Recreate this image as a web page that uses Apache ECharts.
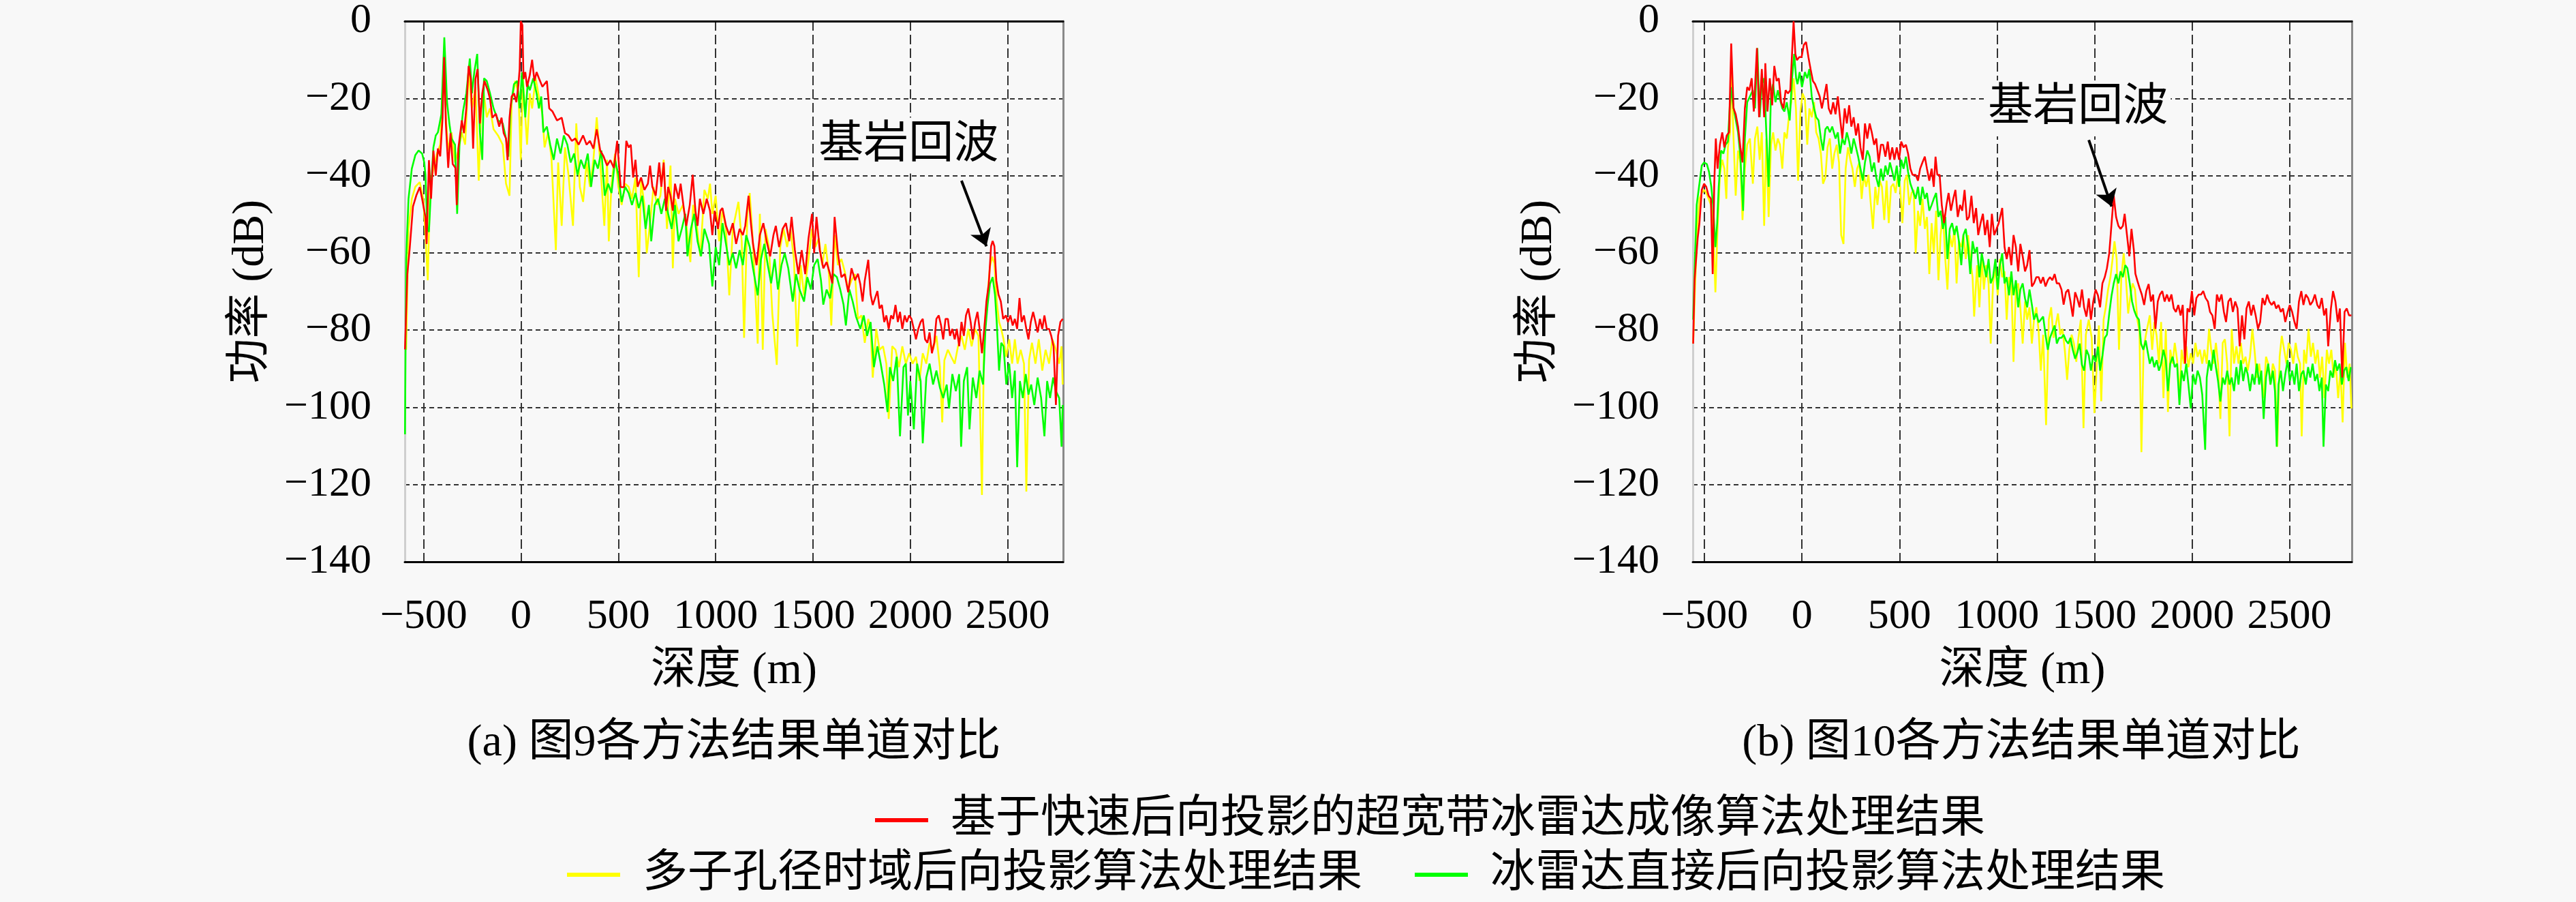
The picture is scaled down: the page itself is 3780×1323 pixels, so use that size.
<!DOCTYPE html>
<html>
<head>
<meta charset="utf-8">
<script src="https://cdn.jsdelivr.net/npm/echarts@6/dist/echarts.min.js"></script>
<style>html,body{margin:0;padding:0;background:#f8f8f8}#c{width:3780px;height:1323px}</style>
</head>
<body>
<div id="c"></div>
<script>
// ---------- names / captions ----------
const seriesNames = ['基于快速后向投影的超宽带冰雷达成像算法处理结果', '多子孔径时域后向投影算法处理结果', '冰雷达直接后向投影算法处理结果'];
const captions = ['(a) 图9各方法结果单道对比', '(b) 图10各方法结果单道对比'];
const xName = '深度 (m)';
const yName = '功率 (dB)';
const noteText = '基岩回波';
const rangeA = [-597, 2785];
const rangeB = [-560, 2820];
const yRange = [-140, 0];
// annotation in data units: [text centre], [arrow tail], [arrow head]
const noteA = [[1991, -32.2], [2263, -41.3], [2391, -58.3]];
const noteB = [[1416, -22.6], [1471, -30.8], [1588, -48]];

// ---------- chart (a) : depth (m), power (dB) ----------
const aRed = [[-596,-85],[-584,-65.5],[-572,-59],[-555,-48],[-537,-45],[-520,-43],[-508,-46],[-491,-50.7],[-485,-57.7],[-473,-36],[-462,-46],[-450,-33.5],[-438,-40],[-427,-33],[-415,-35],[-403,-25],[-395,-9.3],[-386,-26.5],[-374,-38],[-362,-29],[-351,-37],[-337,-38],[-330,-47.6],[-322,-33],[-304,-25.7],[-293,-29],[-281,-22.6],[-269,-11.6],[-258,-15],[-246,-33],[-234,-15],[-223,-12.4],[-211,-26.5],[-199,-18.7],[-188,-15.5],[-170,-18],[-159,-20.2],[-147,-25],[-129,-24],[-112,-27.3],[-100,-25],[-89,-29],[-77,-30.4],[-69,-36],[-59,-25],[-48,-19.5],[-36,-18.7],[-24,-21],[-13,-16.3],[-7,-12.4],[-1,0],[7,-1],[13,-15],[22,-13.2],[31,-17],[45,-14],[57,-10],[69,-15.5],[80,-13.2],[92,-14.8],[110,-17],[133,-15.5],[145,-22.6],[162,-23.4],[185,-25.7],[209,-25],[226,-29],[244,-29.6],[261,-31],[279,-30.4],[296,-32],[319,-29.6],[337,-32],[354,-31],[372,-33],[389,-28],[407,-33.5],[424,-35],[442,-37.4],[459,-36],[477,-38],[494,-31],[512,-43],[529,-43],[541,-31],
[553,-32.7],[564,-32],[576,-40.5],[588,-35.9],[599,-42.9],[617,-40.5],[634,-43.7],[652,-42.1],[663,-37.4],[675,-42.9],[692,-45.2],[710,-36.6],[721,-42.9],[733,-36.6],[745,-49.1],[756,-42.9],[768,-45.2],[780,-49.1],[791,-42.1],[809,-46],[820,-42.1],[838,-49.1],[849,-53],[867,-47.6],[882,-39.8],[896,-49.1],[907,-53],[919,-46],[937,-49.9],[954,-46],[971,-49.1],[983,-55.4],[995,-49.1],[1012,-53.8],[1024,-49.1],[1035,-48.4],[1053,-53],[1070,-55.4],[1088,-52.3],[1105,-57.7],[1123,-53.8],[1140,-55.4],[1152,-53],[1169,-45.2],[1181,-52.3],[1192,-57.7],[1210,-63.2],[1227,-55.4],[1245,-52.3],[1262,-57],[1280,-60.9],[1297,-55.4],[1309,-53],[1326,-58.5],[1344,-53.8],[1361,-52.3],[1378,-57],[1390,-50.7],[1407,-59.3],[1425,-65.5],[1442,-59.3],[1460,-65.5],[1477,-56.2],[1495,-49.9],[1506,-60.1],[1518,-50.7],[1535,-59.3],[1553,-64],[1570,-62.4],[1588,-65.5],[1599,-67.9],[1611,-50.7],[1628,-60.1],[1646,-66.3],[1663,-65.5],[1681,-70.2],[1698,-64],[1716,-67.1],
[1731,-65.4],[1743,-68.1],[1755,-72.6],[1766,-67.2],[1784,-61.8],[1796,-70.8],[1807,-73.5],[1819,-71.7],[1831,-69.9],[1842,-74.4],[1854,-73.5],[1866,-77.9],[1877,-76.2],[1889,-79.7],[1901,-76.2],[1912,-77.1],[1924,-73.5],[1936,-77.9],[1947,-75.3],[1959,-79.7],[1971,-76.2],[1982,-77.9],[1994,-76.2],[2006,-77.1],[2018,-79.7],[2029,-82.4],[2041,-79.7],[2053,-77.9],[2064,-77.1],[2076,-82.4],[2088,-83.3],[2099,-80.6],[2111,-86],[2123,-83.3],[2134,-77.1],[2146,-76.2],[2158,-78.8],[2169,-82.4],[2181,-77.1],[2193,-77.1],[2204,-81.5],[2216,-79.7],[2228,-82.4],[2239,-79.7],[2251,-84.2],[2263,-77.9],[2275,-81.5],[2286,-76.2],[2298,-74.4],[2310,-77.9],[2321,-82.4],[2333,-77.9],[2345,-75.3],[2356,-79.7],[2368,-86],[2380,-79.7],[2391,-72.6],[2403,-68.1],[2415,-58.3],[2423,-56.9],[2432,-58.3],[2442,-67.2],[2453,-70.8],[2465,-72.6],[2477,-77.1],[2491,-76.2],[2502,-77.9],[2514,-76.2],[2526,-78.8],[2537,-77.1],[2549,-79.7],[2561,-71.7],[2572,-77.9],[2584,-76.2],[2596,-79.7],[2607,-82.4],[2619,-77.9],[2631,-75.3],[2643,-77.9],[2654,-80.6],[2666,-77.1],[2678,-79.7],[2689,-76.2],[2701,-79.7],[2713,-79.7],[2724,-81.5],[2736,-84.2],[2748,-99.4],[2759,-81.5],[2771,-77.9],[2783,-77.1]];

const aYellow = [[-590,-85.1],[-578,-53.8],[-561,-46],[-543,-42.9],[-520,-41.7],[-502,-46],[-491,-55.4],[-479,-67.1],[-467,-42.9],[-450,-38.2],[-432,-34.3],[-415,-32],[-397,-10.9],[-386,-24.9],[-374,-33.5],[-357,-28.8],[-339,-36.6],[-322,-33.5],[-304,-28.8],[-287,-32],[-269,-13.2],[-252,-22.6],[-234,-17.1],[-217,-41.3],[-205,-22.6],[-193,-17.9],[-176,-24.9],[-159,-22.6],[-141,-28],[-118,-29.6],[-94,-32],[-77,-42.1],[-59,-45.2],[-48,-21],[-30,-15.5],[-13,-18.7],[-1,-35.9],[10,-14.8],[31,-32],[45,-18.7],[57,-22.6],[75,-14.8],[92,-19.5],[110,-24.1],[121,-32.7],[139,-28.8],[156,-35.1],[179,-59.3],[191,-36.6],[209,-53],[226,-32.7],[244,-39.8],[267,-53],[284,-26.5],[302,-42.9],[319,-46.8],[337,-36.6],[354,-42.9],[372,-35.9],[389,-24.9],[407,-36.6],[428,-53],[442,-35.9],[451,-57],[465,-42.1],[483,-34.3],[500,-42.9],[517,-47.6],[535,-42.1],
[553,-42.9],[570,-46],[588,-40.5],[605,-66.3],[617,-41.3],[634,-47.6],[646,-60.1],[663,-52.3],[681,-42.9],[698,-47.6],[716,-45.2],[733,-35.9],[750,-53.8],[768,-37.4],[780,-64],[791,-46],[809,-49.9],[832,-47.6],[849,-52.3],[870,-62.4],[884,-47.6],[902,-52.3],[921,-60.9],[942,-43.7],[960,-46],[971,-42.1],[983,-49.9],[1000,-45.2],[1018,-57],[1035,-49.1],[1053,-53.8],[1070,-71],[1088,-53.8],[1117,-46.8],[1134,-57],[1146,-82],[1163,-49.9],[1175,-44.5],[1192,-57.7],[1216,-83.5],[1227,-49.9],[1242,-85.1],[1256,-53.8],[1274,-58.5],[1291,-75.7],[1314,-89],[1332,-58.5],[1349,-53.8],[1367,-58.5],[1384,-53.8],[1402,-61.6],[1419,-84.3],[1437,-63.2],[1454,-71],[1477,-61.6],[1495,-53.8],[1512,-58.5],[1530,-56.2],[1547,-63.2],[1564,-57.7],[1582,-65.5],[1594,-78.8],[1611,-55.4],[1628,-63.2],[1646,-61.6],[1663,-64.8],[1681,-69.5],[1698,-67.1],[1716,-65.5],
[1731,-77.1],[1749,-76.2],[1766,-83.3],[1784,-77.1],[1796,-79.7],[1807,-92.3],[1825,-79.7],[1842,-85.1],[1860,-84.2],[1877,-88.7],[1889,-103],[1907,-84.2],[1924,-85.1],[1942,-89.6],[1959,-84.2],[1977,-88.7],[1994,-86],[2012,-88.7],[2029,-86.9],[2047,-93.2],[2064,-86],[2082,-88.7],[2099,-83.3],[2117,-85.1],[2134,-81.5],[2152,-89.6],[2164,-103.9],[2175,-87.8],[2193,-85.1],[2210,-86.9],[2228,-88.7],[2245,-84.2],[2263,-81.5],[2280,-85.1],[2298,-79.7],[2315,-84.2],[2333,-79.7],[2350,-81.5],[2368,-122.7],[2380,-79.7],[2397,-70.8],[2409,-63.6],[2421,-61],[2432,-62.7],[2444,-72.6],[2456,-77.9],[2467,-79.7],[2479,-82.4],[2493,-86.9],[2508,-82.4],[2523,-88.7],[2537,-82.4],[2551,-88.7],[2567,-85.1],[2584,-88.7],[2596,-121.8],[2610,-87.8],[2625,-83.3],[2643,-88.7],[2660,-82.4],[2678,-90.5],[2695,-85.1],[2713,-88.7],[2730,-82.4],[2748,-85.1],[2765,-88.7],[2777,-84.2],[2783,-94.1]];

const aGreen = [[-596,-107],[-590,-61.6],[-578,-46],[-561,-38.2],[-543,-34.7],[-526,-33.5],[-508,-34.3],[-497,-36.6],[-491,-39.8],[-481,-53.8],[-473,-54.6],[-462,-42.9],[-450,-32.7],[-438,-29.6],[-427,-28.8],[-409,-24.1],[-394,-4.2],[-380,-21],[-368,-26.5],[-357,-30.4],[-339,-32],[-328,-49.9],[-316,-32],[-298,-23.4],[-281,-18.7],[-263,-9.7],[-252,-18.7],[-240,-13.2],[-225,-8.5],[-211,-28.8],[-199,-35.9],[-190,-14.8],[-176,-15.5],[-159,-18.7],[-141,-22.6],[-118,-25.7],[-94,-26.5],[-77,-30.4],[-65,-35.1],[-54,-22.6],[-36,-16.3],[-19,-15.5],[-7,-22.6],[5,-13.2],[22,-24.9],[34,-16.3],[45,-17.9],[63,-14.8],[80,-18.7],[92,-22.6],[104,-19.5],[115,-28.8],[133,-27.3],[150,-32],[168,-35.9],[185,-30.4],[203,-34.3],[220,-29.6],[238,-32],[255,-36.6],[273,-34.3],[290,-39.8],[308,-35.9],[325,-38.2],[343,-34.3],[360,-42.9],[378,-35.9],[395,-38.2],[413,-33.5],[430,-45.2],[448,-42.1],[465,-44.5],[483,-35.9],[500,-39.8],[517,-46.8],[535,-42.9],
[553,-44.5],[570,-47.6],[588,-44.5],[605,-48.4],[623,-45.2],[640,-53.8],[657,-47.6],[669,-57],[687,-47.6],[704,-46],[721,-49.9],[739,-46],[756,-49.9],[774,-53.8],[791,-47.6],[809,-57],[826,-53.8],[844,-49.9],[855,-60.9],[873,-53.8],[890,-49.9],[907,-57],[925,-60.9],[942,-53.8],[966,-57.7],[983,-68.7],[1000,-58.5],[1018,-63.2],[1035,-52.3],[1053,-57.7],[1070,-63.2],[1088,-60.1],[1105,-64],[1123,-59.3],[1140,-63.2],[1157,-55.4],[1175,-58.5],[1192,-64],[1216,-71],[1233,-61.6],[1250,-57.7],[1268,-63.2],[1285,-67.9],[1303,-61.6],[1320,-69.5],[1338,-63.2],[1355,-60.1],[1373,-64],[1396,-72.6],[1413,-65.5],[1431,-69.5],[1454,-72.6],[1471,-66.3],[1489,-69.5],[1506,-63.2],[1524,-61.6],[1541,-67.1],[1553,-73.4],[1570,-69.5],[1588,-71.8],[1605,-65.5],[1623,-66.3],[1640,-69.5],[1657,-73.4],[1669,-78.8],[1687,-69.5],[1704,-72.6],[1721,-76.5],
[1743,-79.7],[1761,-76.2],[1778,-81.5],[1796,-77.9],[1813,-89.6],[1831,-84.2],[1848,-88.7],[1866,-94.1],[1883,-101.2],[1895,-89.6],[1912,-93.2],[1930,-86.9],[1947,-107.5],[1965,-89.6],[1977,-88.7],[1988,-102.1],[2000,-93.2],[2018,-105.7],[2035,-88.7],[2053,-93.2],[2064,-109.3],[2082,-92.3],[2099,-88.7],[2117,-94.1],[2134,-90.5],[2152,-94.9],[2169,-97.6],[2187,-94.1],[2199,-100.3],[2216,-91.4],[2234,-95.8],[2251,-91.4],[2261,-110.2],[2275,-93.2],[2292,-89.6],[2304,-105.7],[2321,-92.3],[2339,-97.6],[2356,-90.5],[2374,-94.1],[2386,-79.7],[2397,-73.5],[2409,-68.1],[2423,-66.3],[2435,-70.8],[2444,-77.9],[2456,-90.5],[2467,-83.3],[2479,-84.2],[2493,-94.1],[2508,-88.7],[2523,-97.6],[2537,-90.5],[2549,-115.5],[2563,-93.2],[2578,-97.6],[2593,-91.4],[2607,-96.7],[2621,-94.1],[2637,-99.4],[2654,-92.3],[2672,-97.6],[2689,-107.5],[2703,-93.2],[2718,-97.6],[2734,-92.3],[2748,-95.8],[2765,-97.6],[2777,-110.2],[2783,-99.4]];

// ---------- chart (b) ----------
const bRed = [[-558,-83.5],[-551,-67.1],[-543,-61.6],[-535,-56.2],[-526,-52.3],[-514,-43.7],[-502,-42.1],[-491,-42.9],[-479,-45.2],[-467,-46],[-458,-65.5],[-450,-42.1],[-442,-30.4],[-433,-38.2],[-421,-32],[-409,-28.8],[-398,-32.7],[-386,-29.6],[-374,-28.8],[-363,-5.8],[-351,-22.6],[-340,-24.1],[-328,-27.3],[-316,-32.7],[-305,-36.6],[-293,-22.6],[-281,-17.1],[-270,-17.9],[-258,-14.8],[-247,-23.4],[-231,-7],[-220,-24.9],[-206,-12.4],[-194,-24.9],[-188,-10.9],[-177,-23.4],[-165,-14.8],[-153,-21.8],[-142,-11.6],[-130,-15.5],[-119,-14.8],[-107,-21],[-95,-22.6],[-84,-17.9],[-72,-18.7],[-60,-17.9],[-51,-8.5],[-43,0],[-34,-8.5],[-26,-10.1],[-14,-9.3],[-2,-9.3],[9,-6.2],[21,-5.4],[33,-9.3],[44,-12.4],[56,-15.5],[67,-16.3],[79,-17.9],[91,-19.5],[102,-22.6],[114,-19.5],[126,-16.3],[137,-22.6],[149,-24.1],[160,-21],[172,-24.1],[184,-19.5],[195,-24.9],[207,-30.4],[219,-22.6],[230,-26.5],[242,-21.8],[253,-27.3],[265,-24.9],[277,-29.6],[288,-26.5],[300,-32.7],[312,-35.9],[323,-26.5],[335,-30.4],[347,-26.5],[358,-28.8],[370,-32],[381,-30.4],[393,-36.6],[405,-32],[416,-32],[428,-35.1],[440,-31.2],[451,-35.9],[463,-32.7],[474,-35.9],[486,-32.7],[498,-35.9],[509,-31.2],[521,-32.7],[533,-32],[544,-34.3],[556,-38.2],[567,-39.8],
[583,-39.8],[595,-41.3],[606,-38.2],[618,-36.6],[630,-35.1],[641,-38.2],[653,-41.3],[665,-38.2],[676,-42.9],[685,-35.1],[694,-39.8],[706,-39.8],[717,-47.6],[729,-52.3],[741,-47.6],[752,-44.5],[764,-49.1],[776,-46],[787,-43.7],[799,-50.7],[811,-47.6],[822,-49.1],[834,-43.7],[846,-51.5],[857,-50.7],[869,-45.2],[881,-52.3],[893,-48.4],[904,-55.4],[916,-52.3],[928,-49.9],[939,-55.4],[951,-51.5],[963,-58.5],[974,-49.9],[986,-55.4],[998,-53.8],[1009,-52.3],[1027,-48.4],[1039,-58.5],[1050,-61.6],[1062,-58.5],[1074,-63.2],[1085,-55.4],[1097,-58.5],[1109,-64.8],[1120,-57.7],[1132,-60.9],[1144,-64.8],[1155,-63.2],[1167,-59.3],[1179,-68.7],[1190,-67.9],[1202,-66.3],[1214,-66.3],[1225,-67.9],[1237,-66.3],[1249,-68.7],[1261,-67.1],[1272,-66.3],[1284,-67.1],[1296,-65.5],[1307,-67.9],[1319,-67.9],[1331,-69.5],[1342,-73.4],[1354,-70.2],[1366,-69.5],[1377,-72.6],[1389,-76.5],[1401,-70.2],[1412,-71.8],[1424,-74.1],[1436,-69.5],[1447,-74.1],[1459,-76.5],[1471,-71.8],[1482,-77.3],[1494,-72.6],[1506,-69.5],[1518,-71],[1529,-74.1],[1541,-67.9],[1553,-66.3],[1564,-64],[1576,-60.1],[1588,-52.3],[1599,-45.2],[1611,-50.7],[1623,-53],[1634,-53.8],[1646,-53],[1655,-49.9],[1667,-55.4],[1679,-60.9],[1690,-53.8],
[1702,-59.2],[1710,-65.4],[1720,-67.2],[1731,-69],[1743,-70.8],[1755,-73.5],[1766,-69.9],[1778,-68.1],[1790,-72.6],[1801,-70.8],[1813,-79.7],[1825,-72.6],[1836,-70.8],[1848,-69.9],[1860,-72.6],[1872,-70.8],[1883,-72.6],[1895,-70.8],[1907,-74.4],[1918,-75.3],[1930,-73.5],[1942,-76.2],[1953,-73.5],[1965,-88.7],[1977,-74.4],[1988,-75.3],[2000,-69.9],[2012,-76.2],[2023,-71.7],[2035,-70.8],[2047,-70.8],[2058,-69.9],[2070,-71.7],[2082,-72.6],[2093,-75.3],[2105,-76.2],[2117,-79.7],[2128,-70.8],[2140,-72.6],[2152,-70.8],[2164,-75.3],[2175,-77.9],[2187,-72.6],[2199,-71.7],[2210,-75.3],[2222,-72.6],[2234,-74.4],[2245,-84.2],[2257,-76.2],[2269,-82.4],[2280,-74.4],[2292,-72.6],[2304,-76.2],[2315,-73.5],[2327,-76.2],[2339,-79.7],[2350,-77.9],[2362,-71.7],[2374,-73.5],[2386,-70.8],[2397,-72.6],[2409,-73.5],[2421,-72.6],[2432,-74.4],[2444,-73.5],[2456,-75.3],[2467,-74.4],[2479,-77.9],[2491,-75.3],[2502,-73.5],[2514,-75.3],[2526,-77.9],[2537,-79.7],[2549,-72.6],[2561,-69.9],[2572,-73.5],[2584,-70.8],[2596,-71.7],[2607,-73.5],[2619,-72.6],[2631,-70.8],[2643,-73.5],[2654,-74.4],[2666,-71.7],[2678,-76.2],[2689,-74.4],[2699,-84.2],[2713,-74.4],[2724,-69.9],[2736,-72.6],[2748,-77.9],[2759,-74.4],[2771,-92.3],[2783,-75.3],[2794,-74.4],[2806,-76.2],[2818,-76.2]];

const bYellow = [[-558,-83.5],[-549,-69.5],[-537,-53.8],[-526,-46],[-514,-44.5],[-502,-43.7],[-491,-44.5],[-479,-46],[-467,-47.6],[-456,-52.3],[-444,-70.2],[-433,-53.8],[-421,-39.8],[-409,-35.9],[-398,-38.2],[-388,-46],[-380,-32.7],[-369,-28.8],[-363,-11.6],[-351,-30.4],[-340,-45.2],[-328,-33.5],[-316,-36.6],[-305,-51.5],[-293,-38.2],[-281,-32],[-267,-30.4],[-252,-42.1],[-241,-30.4],[-229,-27.3],[-217,-35.9],[-206,-28.8],[-194,-53],[-183,-30.4],[-171,-50.7],[-159,-32],[-148,-28.8],[-136,-33.5],[-124,-30.4],[-113,-32],[-101,-38.2],[-90,-28.8],[-78,-30.4],[-66,-24.1],[-55,-21],[-43,-14.8],[-31,-22.6],[-20,-41.3],[-8,-23.4],[3,-18.7],[15,-20.2],[27,-32],[38,-22.6],[50,-24.9],[62,-21],[73,-28.8],[85,-30.4],[97,-34.3],[108,-42.1],[120,-40.5],[131,-32.7],[143,-30.4],[155,-38.2],[166,-34.3],[178,-32],[190,-36.6],[201,-55.4],[213,-57.7],[224,-38.2],[236,-32.7],[248,-35.9],[259,-38.2],[271,-42.9],[283,-38.2],[294,-36.6],[306,-46],[317,-39.8],[329,-42.9],[341,-39.8],[352,-46.8],[364,-53.8],[376,-42.9],[387,-47.6],[399,-41.3],[410,-42.9],[422,-51.5],[434,-41.3],[445,-52.3],[457,-42.9],[469,-42.1],[480,-44.5],[492,-39.8],[503,-42.9],[515,-52.3],[527,-41.3],[538,-39.8],[550,-47.6],[562,-44.5],[573,-43.7],
[583,-60.1],[595,-49.1],[606,-53],[618,-46],[630,-53.8],[641,-50.7],[653,-65.5],[665,-52.3],[676,-60.1],[688,-49.1],[700,-67.1],[711,-55.4],[723,-49.9],[735,-61.6],[746,-69.5],[758,-55.4],[770,-58.5],[782,-53.8],[793,-67.9],[805,-57],[817,-58.5],[828,-55.4],[840,-61.6],[852,-55.4],[863,-61.6],[875,-66.3],[883,-76.5],[898,-63.2],[910,-74.1],[922,-61.6],[933,-69.5],[945,-63.2],[957,-67.9],[968,-83.5],[980,-67.9],[992,-64],[1004,-71],[1015,-61.6],[1027,-66.3],[1039,-64.8],[1050,-77.3],[1062,-66.3],[1074,-67.9],[1085,-88.2],[1097,-69.5],[1109,-67.9],[1120,-74.1],[1132,-83.5],[1144,-72.6],[1155,-77.3],[1167,-74.1],[1179,-83.5],[1190,-77.3],[1202,-74.1],[1214,-80.4],[1225,-90.5],[1237,-81.2],[1252,-104.6],[1266,-77.3],[1278,-74.1],[1290,-82],[1301,-78.8],[1313,-75.7],[1325,-81.2],[1336,-79.7],[1348,-85.1],[1360,-92.9],[1371,-85.1],[1383,-81.2],[1395,-83.5],[1407,-88.2],[1418,-82],[1430,-77.3],[1444,-105.4],[1456,-81.2],[1471,-77.3],[1486,-82],[1500,-101.5],[1512,-89],[1523,-78.8],[1535,-98.4],[1547,-77.3],[1558,-74.1],[1570,-69.5],[1582,-66.3],[1593,-61.6],[1603,-57],[1614,-61.6],[1626,-85.1],[1638,-66.3],[1650,-60.1],[1661,-66.3],[1673,-75.7],[1685,-71],[1696,-67.9],[1708,-69.5],[1720,-77.3],[1731,-80.4],[1741,-111.6],[1752,-85.1],[1764,-81.2],
[1784,-76.2],[1796,-85.1],[1807,-77.9],[1819,-81.5],[1831,-88.7],[1842,-77.9],[1854,-97.6],[1866,-79.7],[1877,-101.2],[1889,-85.1],[1901,-88.7],[1912,-83.3],[1924,-87.8],[1936,-97.6],[1947,-85.1],[1959,-88.7],[1971,-84.2],[1982,-89.6],[1994,-86],[2006,-88.7],[2018,-83.3],[2029,-86.9],[2041,-85.1],[2053,-88.7],[2064,-85.1],[2076,-88.7],[2088,-79.7],[2099,-85.1],[2111,-88.7],[2123,-83.3],[2134,-88.7],[2146,-103],[2158,-83.3],[2169,-82.4],[2181,-88.7],[2193,-107.5],[2204,-79.7],[2216,-88.7],[2228,-84.2],[2239,-88.7],[2251,-83.3],[2263,-88.7],[2275,-86.9],[2286,-90.5],[2298,-86.9],[2310,-79.7],[2321,-85.1],[2333,-92.3],[2345,-88.7],[2356,-93.2],[2368,-97.6],[2380,-86.9],[2391,-88.7],[2403,-94.1],[2415,-88.7],[2426,-90.5],[2438,-110.2],[2450,-86.9],[2461,-81.5],[2473,-85.1],[2485,-88.7],[2496,-83.3],[2508,-85.1],[2520,-88.7],[2532,-83.3],[2543,-86.9],[2555,-88.7],[2563,-107.5],[2575,-85.1],[2586,-88.7],[2598,-79.7],[2610,-86.9],[2621,-83.3],[2633,-88.7],[2645,-85.1],[2657,-92.3],[2668,-86.9],[2680,-97.6],[2692,-85.1],[2703,-88.7],[2715,-85.1],[2727,-92.3],[2738,-88.7],[2750,-97.6],[2762,-90.5],[2773,-103.9],[2785,-83.3],[2797,-92.3],[2809,-88.7],[2818,-100.3]];

const bGreen = [[-558,-77.3],[-549,-61.6],[-540,-47.6],[-528,-42.9],[-514,-37.4],[-502,-36.6],[-488,-37],[-477,-39],[-465,-42.9],[-456,-47.6],[-444,-58.5],[-435,-52.3],[-427,-42.9],[-415,-33.5],[-403,-34.3],[-392,-32],[-380,-31.2],[-365,-17.1],[-353,-21.8],[-342,-24.9],[-328,-28.8],[-316,-35.1],[-302,-49.1],[-293,-30.4],[-281,-21],[-267,-19.5],[-252,-17.9],[-241,-22.6],[-229,-7],[-217,-24.9],[-206,-16.3],[-194,-14.8],[-183,-28.8],[-171,-42.9],[-159,-18.7],[-148,-16.3],[-136,-21],[-124,-17.9],[-113,-20.2],[-101,-22.6],[-90,-23.4],[-78,-21],[-63,-25.7],[-51,-14.8],[-40,-8.5],[-30,-14.8],[-23,-16.3],[-12,-13.2],[0,-17.1],[15,-13.2],[27,-14.8],[38,-12.4],[50,-19.5],[62,-22.6],[73,-24.9],[85,-25.7],[97,-30.4],[108,-33.5],[120,-28],[131,-27.3],[143,-28.8],[155,-27.3],[172,-30.4],[184,-28.8],[195,-34.3],[207,-30.4],[219,-32],[230,-28.8],[242,-31.2],[253,-34.3],[265,-30.4],[277,-32.7],[288,-35.1],[300,-38.2],[312,-41.3],[323,-36.6],[335,-33.5],[347,-35.1],[358,-39],[370,-36.6],[381,-40.5],[393,-42.9],[405,-38.2],[416,-41.3],[428,-37.4],[440,-39.8],[451,-36.6],[463,-39],[474,-41.3],[486,-37.4],[498,-42.9],[509,-35.9],[521,-38.2],[533,-35.1],[544,-39],[556,-42.1],[567,-43.7],
[583,-46],[595,-42.9],[606,-47.6],[618,-42.9],[630,-46],[641,-44.5],[653,-49.1],[665,-47.6],[676,-46],[688,-44.5],[700,-50.7],[711,-49.1],[723,-53.8],[735,-50.7],[746,-61.6],[758,-53.8],[770,-52.3],[782,-55.4],[793,-53],[805,-57],[817,-63.2],[828,-55.4],[840,-53.8],[852,-58.5],[863,-65.5],[875,-57],[887,-60.1],[898,-58.5],[910,-66.3],[922,-60.1],[933,-63.2],[945,-66.3],[957,-61.6],[968,-67.9],[980,-66.3],[992,-61.6],[1004,-69.5],[1015,-63.2],[1027,-60.1],[1039,-67.9],[1050,-66.3],[1062,-71],[1074,-64.8],[1085,-71],[1097,-67.1],[1109,-74.1],[1120,-69.5],[1132,-67.9],[1144,-71.8],[1155,-74.1],[1167,-69.5],[1179,-73.4],[1190,-77.3],[1202,-75.7],[1214,-78],[1225,-77.3],[1237,-76.5],[1249,-81.2],[1261,-85.1],[1272,-82],[1284,-80.4],[1296,-78.8],[1307,-83.5],[1319,-82],[1331,-82],[1342,-81.2],[1354,-82.7],[1366,-83.5],[1377,-82],[1389,-85.1],[1401,-87.4],[1412,-85.9],[1424,-83.5],[1436,-89],[1447,-90.5],[1459,-85.1],[1471,-86.6],[1482,-90.5],[1494,-86.6],[1506,-88.2],[1518,-84.3],[1529,-90.5],[1541,-86.6],[1553,-82],[1564,-81.2],[1576,-75.7],[1588,-71],[1599,-67.9],[1611,-65.5],[1623,-67.9],[1634,-64.8],[1646,-66.3],[1658,-63.2],[1669,-64],[1681,-67.9],[1693,-72.6],[1704,-74.9],[1716,-76.5],[1728,-77.3],[1739,-83.5],[1751,-85.1],[1763,-82.7],
[1784,-88.7],[1796,-86.9],[1807,-89.6],[1819,-87.8],[1831,-90.5],[1842,-88.7],[1854,-85.1],[1866,-87.8],[1877,-95.8],[1889,-88.7],[1901,-86.9],[1912,-89.6],[1924,-88.7],[1936,-99.4],[1947,-90.5],[1959,-93.2],[1971,-88.7],[1982,-94.1],[1994,-100.3],[2006,-91.4],[2018,-94.1],[2029,-90.5],[2041,-92.3],[2053,-96.7],[2068,-111],[2076,-92.3],[2088,-87.8],[2099,-90.5],[2111,-85.1],[2123,-89.6],[2134,-93.2],[2146,-98.5],[2158,-92.3],[2169,-94.1],[2181,-90.5],[2193,-94.1],[2204,-92.3],[2216,-95.8],[2228,-89.6],[2239,-94.1],[2251,-87.8],[2263,-93.2],[2275,-89.6],[2286,-91.4],[2298,-95.8],[2310,-91.4],[2321,-94.1],[2333,-88.7],[2345,-94.1],[2356,-90.5],[2368,-103],[2380,-92.3],[2391,-88.7],[2403,-94.1],[2415,-90.5],[2426,-95.8],[2435,-110.2],[2444,-94.1],[2456,-90.5],[2467,-95.8],[2479,-91.4],[2491,-87.8],[2502,-93.2],[2514,-90.5],[2526,-94.1],[2537,-88.7],[2549,-95.8],[2561,-91.4],[2572,-90.5],[2584,-94.1],[2596,-89.6],[2607,-92.3],[2619,-88.7],[2631,-93.2],[2643,-91.4],[2654,-95.8],[2666,-92.3],[2675,-110.2],[2687,-94.1],[2699,-95.8],[2710,-90.5],[2722,-92.3],[2734,-87.8],[2745,-90.5],[2757,-88.7],[2769,-94.1],[2780,-90.5],[2792,-89.6],[2804,-93.2],[2815,-89.6]];

const colors = ['#ff0000', '#ffff00', '#00ff00'];

// ---------- styling ----------
const serif = "'Liberation Serif', serif";
const mixed = "'Liberation Serif', 'Noto Sans CJK SC', sans-serif";
const minusFmt = v => (v < 0 ? '\u2212' + Math.abs(v) : String(v));
const bigFont = 66;
const grids = [
  { left: 594, top: 24, width: 966, height: 800 },
  { left: 2484, top: 24, width: 967, height: 800 }
];
const ranges = [rangeA, rangeB];

const xAxes = [], yAxes = [];
[0, 1].forEach(g => {
  xAxes.push({
    type: 'value', gridIndex: g, min: ranges[g][0], max: ranges[g][1],
    minInterval: 500, maxInterval: 500, splitNumber: 6,
    name: xName, nameLocation: 'middle', nameGap: 128,
    nameTextStyle: { fontFamily: mixed, fontSize: bigFont, color: '#000' },
    axisLine: { show: true, onZero: false, lineStyle: { color: '#000', width: 3 } },
    axisTick: { show: false },
    axisLabel: { margin: 50, fontFamily: serif, fontSize: 62, color: '#000', formatter: minusFmt, showMinLabel: false, showMaxLabel: false },
    splitLine: { show: true, lineStyle: { color: '#333', width: 2, type: [14, 6] } }
  });
  xAxes.push({
    type: 'value', gridIndex: g, position: 'top', min: ranges[g][0], max: ranges[g][1],
    axisLine: { show: true, onZero: false, lineStyle: { color: '#000', width: 3 } },
    axisTick: { show: false }, axisLabel: { show: false }, splitLine: { show: false }
  });
  yAxes.push({
    type: 'value', gridIndex: g, min: yRange[0], max: yRange[1], interval: 20,
    name: yName, nameLocation: 'middle', nameGap: 192,
    nameTextStyle: { fontFamily: mixed, fontSize: bigFont, color: '#000' },
    axisLine: { show: true, onZero: false, lineStyle: { color: '#cfcfcf', width: 3 } },
    axisTick: { show: false },
    axisLabel: { margin: 49, fontFamily: serif, fontSize: 62, color: '#000', formatter: minusFmt },
    splitLine: { show: true, lineStyle: { color: '#333', width: 2, type: [7, 5] } }
  });
  yAxes.push({
    type: 'value', gridIndex: g, position: 'right', min: yRange[0], max: yRange[1],
    axisLine: { show: true, onZero: false, lineStyle: { color: '#8a8a8a', width: 3 } },
    axisTick: { show: false }, axisLabel: { show: false }, splitLine: { show: false }
  });
});

function lineSeries(name, data, color, g, z) {
  return {
    type: 'line', name: name, data: data, xAxisIndex: g * 2, yAxisIndex: g * 2,
    showSymbol: false, symbol: 'none', z: z, clip: true,
    lineStyle: { color: color, width: 2.6 }, itemStyle: { color: color },
    emphasis: { disabled: true }
  };
}
function annotate(s, note) {
  s.markPoint = {
    symbol: 'rect', symbolSize: [1, 1], silent: true,
    itemStyle: { color: 'rgba(0,0,0,0)' },
    label: { show: true, position: 'inside', formatter: noteText, fontFamily: mixed, fontSize: bigFont, color: '#000',
             backgroundColor: '#f8f8f8', padding: [2, 4, 14, 4] },
    data: [{ coord: note[0] }]
  };
  s.markLine = {
    silent: true, symbol: ['none', 'arrow'], symbolSize: 24,
    lineStyle: { color: '#000', width: 4, type: 'solid' },
    label: { show: false }, emphasis: { disabled: true },
    data: [[{ coord: note[1] }, { coord: note[2] }]]
  };
  return s;
}

const series = [
  lineSeries(seriesNames[1], aYellow, colors[1], 0, 2),
  lineSeries(seriesNames[2], aGreen, colors[2], 0, 3),
  annotate(lineSeries(seriesNames[0], aRed, colors[0], 0, 4), noteA),
  lineSeries(seriesNames[1], bYellow, colors[1], 1, 2),
  lineSeries(seriesNames[2], bGreen, colors[2], 1, 3),
  annotate(lineSeries(seriesNames[0], bRed, colors[0], 1, 4), noteB)
];

const legendCommon = {
  orient: 'horizontal', icon: 'rect', itemWidth: 78, itemHeight: 6, padding: 0,
  selectedMode: false,
  textStyle: { fontFamily: mixed, fontSize: bigFont, color: '#000', lineHeight: 76, padding: [0, 0, 0, 28] }
};

const option = {
  animation: false,
  backgroundColor: '#f8f8f8',
  grid: grids,
  xAxis: xAxes,
  yAxis: yAxes,
  title: [
    { text: captions[0], left: 1077, top: 1053, textAlign: 'center', padding: 0,
      textStyle: { fontFamily: mixed, fontSize: bigFont, fontWeight: 'normal', color: '#000', lineHeight: 76 } },
    { text: captions[1], left: 2966, top: 1053, textAlign: 'center', padding: 0,
      textStyle: { fontFamily: mixed, fontSize: bigFont, fontWeight: 'normal', color: '#000', lineHeight: 76 } }
  ],
  legend: [
    Object.assign({}, legendCommon, { left: 1284, top: 1165, data: [seriesNames[0]] }),
    Object.assign({}, legendCommon, { left: 832, top: 1245, itemGap: 77, data: [seriesNames[1], seriesNames[2]] })
  ],
  series: series
};

const chart = echarts.init(document.getElementById('c'), null, { renderer: 'canvas', width: 3780, height: 1323 });
chart.setOption(option);
</script>
</body>
</html>
